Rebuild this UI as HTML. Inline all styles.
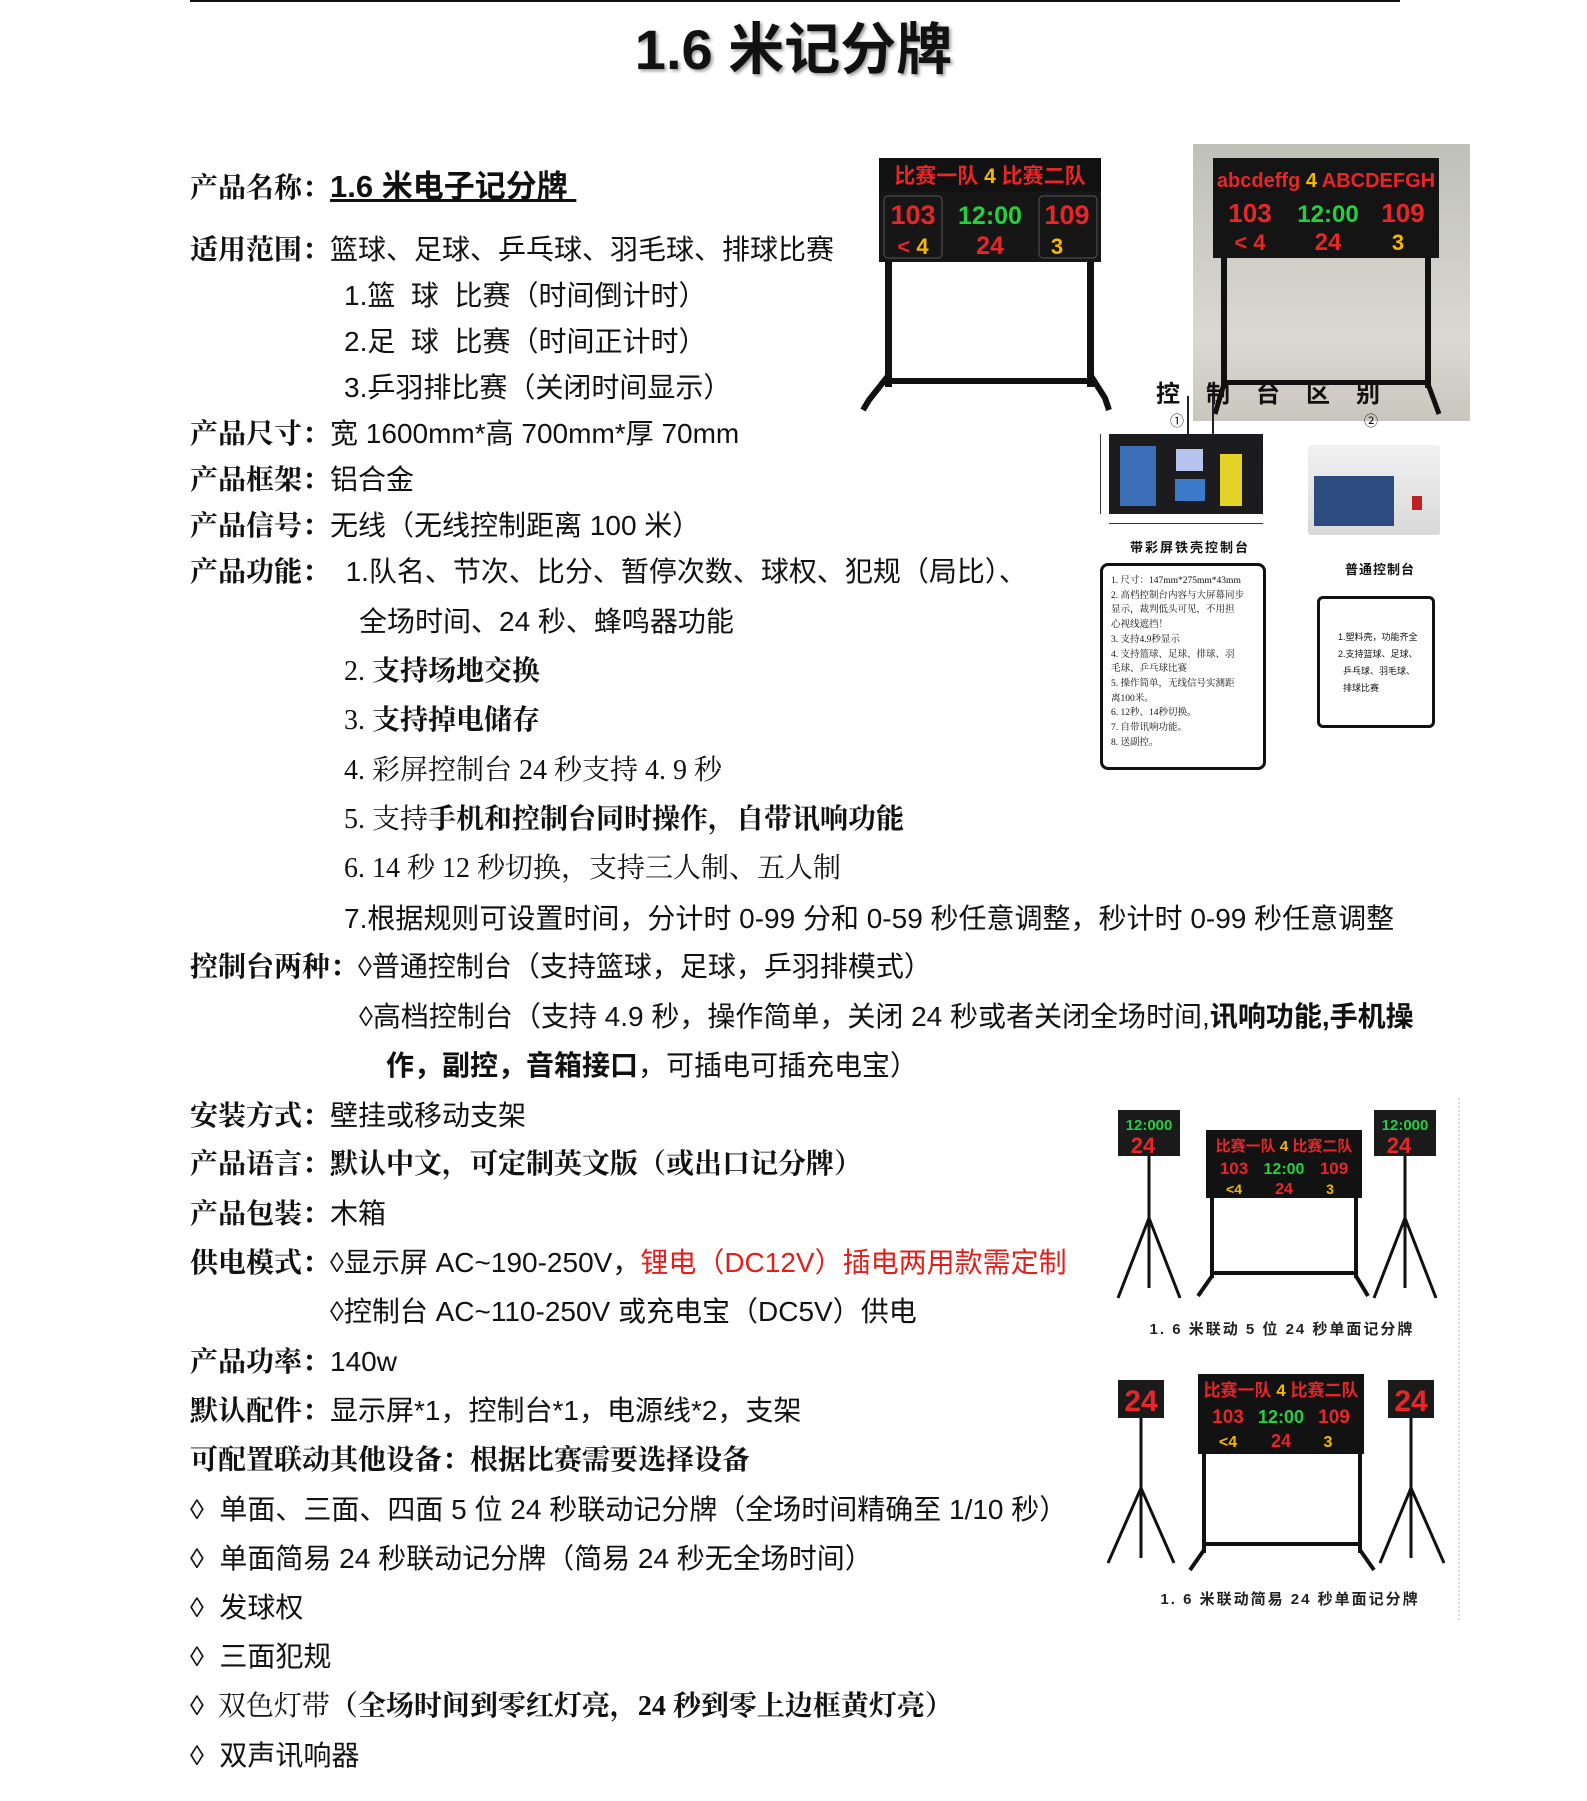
<!DOCTYPE html>
<html><head><meta charset="utf-8">
<style>
html,body{margin:0;padding:0;background:#fff;}
body{width:1587px;height:1801px;position:relative;overflow:hidden;font-family:"Liberation Sans","Noto Sans CJK SC",sans-serif;color:#111;}
.t{position:absolute;font-size:28px;line-height:34px;white-space:nowrap;transform:translateY(-17px);}
.b{font-weight:bold;}
.s{font-family:"Liberation Serif","Noto Serif CJK SC",serif;}
.a{position:absolute;}
.red{color:#e0201c;}
svg text{font-family:"Liberation Sans","Noto Sans CJK SC",sans-serif;font-weight:bold;}
</style></head><body>
<div class="a" style="left:190px;top:0;width:1210px;height:2px;background:#111"></div>
<div class="a b" style="left:0;width:1587px;top:20px;text-align:center;font-size:56px;line-height:60px;text-shadow:2px 2px 3px #999;">1.6 米记分牌</div>

<div class="t b s" style="left:190px;top:187px">产品名称：<span style="font-family:'Liberation Sans','Noto Sans CJK SC',sans-serif;font-size:31px;text-decoration:underline;">1.6 米电子记分牌&nbsp;</span></div>
<div class="t" style="left:190px;top:250px"><b class="s">适用范围：</b>篮球、足球、乒乓球、羽毛球、排球比赛</div>
<div class="t" style="left:344px;top:296px">1.篮&nbsp; 球&nbsp; 比赛（时间倒计时）</div>
<div class="t" style="left:344px;top:342px">2.足&nbsp; 球&nbsp; 比赛（时间正计时）</div>
<div class="t" style="left:344px;top:388px">3.乒羽排比赛（关闭时间显示）</div>
<div class="t" style="left:190px;top:434px"><b class="s">产品尺寸：</b>宽 1600mm*高 700mm*厚 70mm</div>
<div class="t" style="left:190px;top:480px"><b class="s">产品框架：</b>铝合金</div>
<div class="t" style="left:190px;top:526px"><b class="s">产品信号：</b>无线（无线控制距离 100 米）</div>
<div class="t" style="left:190px;top:572px"><b class="s">产品功能：</b>&nbsp; 1.队名、节次、比分、暂停次数、球权、犯规（局比）、</div>
<div class="t" style="left:359px;top:622px">全场时间、24 秒、蜂鸣器功能</div>
<div class="t s" style="left:344px;top:672px">2. <b>支持场地交换</b></div>
<div class="t s" style="left:344px;top:721px">3. <b>支持掉电储存</b></div>
<div class="t s" style="left:344px;top:771px">4. 彩屏控制台 24 秒支持 4. 9 秒</div>
<div class="t s" style="left:344px;top:820px">5. 支持<b>手机和控制台同时操作，自带讯响功能</b></div>
<div class="t s" style="left:344px;top:869px">6. 14 秒 12 秒切换，支持三人制、五人制</div>
<div class="t" style="left:344px;top:919px">7.根据规则可设置时间，分计时 0-99 分和 0-59 秒任意调整，秒计时 0-99 秒任意调整</div>
<div class="t" style="left:190px;top:967px"><b class="s">控制台两种：</b>◊普通控制台（支持篮球，足球，乒羽排模式）</div>
<div class="t" style="left:359px;top:1017px">◊高档控制台（支持 4.9 秒，操作简单，关闭 24 秒或者关闭全场时间,<b>讯响功能,手机操</b></div>
<div class="t b" style="left:386px;top:1066px">作，副控，音箱接口<span style="font-weight:normal">，可插电可插充电宝）</span></div>
<div class="t" style="left:190px;top:1116px"><b class="s">安装方式：</b>壁挂或移动支架</div>
<div class="t b s" style="left:190px;top:1165px">产品语言：默认中文，可定制英文版（或出口记分牌）</div>
<div class="t" style="left:190px;top:1214px"><b class="s">产品包装：</b>木箱</div>
<div class="t" style="left:190px;top:1263px"><b class="s">供电模式：</b>◊显示屏 AC~190-250V，<span class="red">锂电（DC12V）插电两用款需定制</span></div>
<div class="t" style="left:330px;top:1312px">◊控制台 AC~110-250V 或充电宝（DC5V）供电</div>
<div class="t" style="left:190px;top:1362px"><b class="s">产品功率：</b>140w</div>
<div class="t" style="left:190px;top:1411px"><b class="s">默认配件：</b>显示屏*1，控制台*1，电源线*2，支架</div>
<div class="t b s" style="left:190px;top:1461px">可配置联动其他设备：根据比赛需要选择设备</div>
<div class="t" style="left:190px;top:1510px">◊&nbsp; 单面、三面、四面 5 位 24 秒联动记分牌（全场时间精确至 1/10 秒）</div>
<div class="t" style="left:190px;top:1559px">◊&nbsp; 单面简易 24 秒联动记分牌（简易 24 秒无全场时间）</div>
<div class="t" style="left:190px;top:1608px">◊&nbsp; 发球权</div>
<div class="t" style="left:190px;top:1657px">◊&nbsp; 三面犯规</div>
<div class="t s" style="left:190px;top:1707px">◊&nbsp; 双色灯带<b>（全场时间到零红灯亮，24 秒到零上边框黄灯亮）</b></div>
<div class="t" style="left:190px;top:1756px">◊&nbsp; 双声讯响器</div>

<!-- scoreboard 1 -->
<svg class="a" style="left:857px;top:158px" width="264" height="256" viewBox="0 0 264 256">
<rect x="22" y="0" width="222" height="34" fill="#111"/>
<text x="133" y="25" font-size="21" fill="#e8262a" text-anchor="middle">比赛一队 <tspan fill="#f5b800">4</tspan> 比赛二队</text>
<rect x="22" y="34" width="222" height="70" fill="#161616"/>
<rect x="27" y="38" width="58" height="62" rx="4" fill="none" stroke="#555"/>
<rect x="182" y="38" width="58" height="62" rx="4" fill="none" stroke="#555"/>
<text x="56" y="66" font-size="27" fill="#e8262a" text-anchor="middle">103</text>
<text x="133" y="66" font-size="25" fill="#22d040" text-anchor="middle">12:00</text>
<text x="210" y="66" font-size="27" fill="#e8262a" text-anchor="middle">109</text>
<text x="56" y="96" font-size="22" fill="#e8262a" text-anchor="middle">&lt; <tspan fill="#f5b800">4</tspan></text>
<text x="133" y="96" font-size="25" fill="#e8262a" text-anchor="middle">24</text>
<text x="200" y="96" font-size="22" fill="#f5b800" text-anchor="middle">3</text>
<rect x="28" y="104" width="7" height="125" fill="#111"/><rect x="230" y="104" width="7" height="125" fill="#111"/>
<rect x="28" y="220" width="209" height="6" fill="#111"/>
<path d="M31 218 L12 242 L6 252 M234 218 L248 240 L252 252" stroke="#111" stroke-width="6" fill="none"/>
</svg>

<!-- photo 2 -->
<div class="a" style="left:1193px;top:144px;width:277px;height:277px;background:linear-gradient(#bfc0b8,#d9d9d2 70%,#c9c6bd);"></div>
<svg class="a" style="left:1193px;top:144px" width="277" height="277" viewBox="0 0 277 277">
<rect x="20" y="14" width="226" height="100" fill="#141414"/>
<text x="133" y="43" font-size="20" fill="#e8262a" text-anchor="middle">abcdeffg <tspan fill="#f5b800">4</tspan> ABCDEFGH</text>
<text x="57" y="78" font-size="26" fill="#e8262a" text-anchor="middle">103</text>
<text x="135" y="78" font-size="24" fill="#22d040" text-anchor="middle">12:00</text>
<text x="210" y="78" font-size="26" fill="#e8262a" text-anchor="middle">109</text>
<text x="57" y="106" font-size="22" fill="#e8262a" text-anchor="middle">&lt; 4</text>
<text x="135" y="106" font-size="24" fill="#e8262a" text-anchor="middle">24</text>
<text x="205" y="106" font-size="22" fill="#f5b800" text-anchor="middle">3</text>
<rect x="28" y="114" width="6" height="130" fill="#111"/><rect x="232" y="114" width="6" height="130" fill="#111"/>
<rect x="28" y="236" width="210" height="5" fill="#111"/>
<path d="M31 240 L22 270 M235 240 L246 270" stroke="#111" stroke-width="5"/>
</svg>
<div class="a b" style="left:1156px;top:374px;font-size:24px;letter-spacing:26px;white-space:nowrap;">控制台区别</div>
<div class="a" style="left:1170px;top:411px;font-size:14px;">①</div>
<div class="a" style="left:1364px;top:411px;font-size:14px;">②</div>
<div class="a" style="left:1187px;top:396px;width:2px;height:40px;background:#222"></div>
<div class="a" style="left:1212px;top:396px;width:2px;height:40px;background:#222"></div>

<!-- console 1 -->
<div class="a" style="left:1109px;top:434px;width:154px;height:80px;background:#1c1c1e;"></div>
<div class="a" style="left:1120px;top:446px;width:36px;height:60px;background:#3a6fb8;"></div>
<div class="a" style="left:1176px;top:449px;width:27px;height:22px;background:#b8c4f0;"></div>
<div class="a" style="left:1175px;top:479px;width:30px;height:22px;background:#3a7ac8;"></div>
<div class="a" style="left:1220px;top:454px;width:22px;height:52px;background:#e4d428;"></div>
<div class="a" style="left:1100px;top:434px;width:1px;height:80px;background:#333"></div>
<div class="a" style="left:1109px;top:523px;width:154px;height:1px;background:#333"></div>
<div class="a b" style="left:1100px;top:537px;width:180px;text-align:center;font-size:13px;letter-spacing:2px;">带彩屏铁壳控制台</div>
<!-- console 2 -->
<div class="a" style="left:1308px;top:445px;width:132px;height:90px;background:linear-gradient(#f2f2f2,#d8d8d8);border-radius:3px;"></div>
<div class="a" style="left:1314px;top:476px;width:80px;height:50px;background:#2c4c80;"></div>
<div class="a" style="left:1412px;top:496px;width:10px;height:14px;background:#c02020;"></div>
<div class="a b" style="left:1330px;top:559px;width:100px;text-align:center;font-size:13px;letter-spacing:1px;">普通控制台</div>
<!-- box 1 -->
<div class="a s" style="left:1100px;top:563px;border:3px solid #111;border-radius:8px;padding:8px 4px 0 8px;font-size:9.5px;line-height:14.7px;box-sizing:content-box;width:148px;height:193px;">1. 尺寸：147mm*275mm*43mm<br>2. 高档控制台内容与大屏幕同步<br>显示，裁判低头可见，不用担<br>心视线遮挡！<br>3. 支持4.9秒显示<br>4. 支持篮球、足球、排球、羽<br>毛球、乒乓球比赛<br>5. 操作简单，无线信号实测距<br>离100米。<br>6. 12秒、14秒切换。<br>7. 自带讯响功能。<br>8. 送副控。</div>
<!-- box 2 -->
<div class="a" style="left:1317px;top:596px;width:112px;height:126px;border:3px solid #111;border-radius:6px;font-size:9px;line-height:17px;padding:0;"><div style="padding:30px 0 0 18px">1.塑料壳，功能齐全<br>2.支持篮球、足球、<br>&nbsp;&nbsp;乒乓球、羽毛球、<br>&nbsp;&nbsp;排球比赛</div></div>

<!-- bottom groups -->
<svg class="a" style="left:1098px;top:1098px" width="362" height="530" viewBox="0 0 362 530">
<line x1="361" y1="0" x2="361" y2="524" stroke="#bbb" stroke-dasharray="2,2"/>
<rect x="20" y="12" width="62" height="46" fill="#1a1a1a"/>
<text x="51" y="32" font-size="15" fill="#22d040" text-anchor="middle">12:000</text>
<text x="45" y="55" font-size="22" fill="#e8262a" text-anchor="middle">24</text>
<rect x="276" y="12" width="62" height="46" fill="#1a1a1a"/>
<text x="307" y="32" font-size="15" fill="#22d040" text-anchor="middle">12:000</text>
<text x="301" y="55" font-size="22" fill="#e8262a" text-anchor="middle">24</text>
<path d="M51 58 V190 M51 120 L20 200 M51 120 L82 200 M307 58 V190 M307 120 L276 200 M307 120 L338 200" stroke="#111" stroke-width="3" fill="none"/>
<rect x="108" y="32" width="156" height="68" fill="#121212"/>
<text x="186" y="53" font-size="15" fill="#e8262a" text-anchor="middle">比赛一队 <tspan fill="#f5b800">4</tspan> 比赛二队</text>
<text x="136" y="76" font-size="17" fill="#e8262a" text-anchor="middle">103</text>
<text x="186" y="76" font-size="16" fill="#22d040" text-anchor="middle">12:00</text>
<text x="236" y="76" font-size="17" fill="#e8262a" text-anchor="middle">109</text>
<text x="186" y="96" font-size="16" fill="#e8262a" text-anchor="middle">24</text>
<text x="136" y="96" font-size="14" fill="#f5b800" text-anchor="middle">&lt;4</text>
<text x="232" y="96" font-size="14" fill="#f5b800" text-anchor="middle">3</text>
<path d="M114 100 V180 M258 100 V180 M114 175 H258 M114 178 L100 198 M258 178 L270 198" stroke="#111" stroke-width="4" fill="none"/>
<text x="184" y="236" font-size="15" fill="#222" text-anchor="middle" letter-spacing="2">1. 6 米联动 5 位 24 秒单面记分牌</text>
<rect x="20" y="282" width="46" height="38" fill="#1a1a1a"/>
<text x="43" y="313" font-size="30" fill="#e8262a" text-anchor="middle">24</text>
<rect x="290" y="282" width="46" height="38" fill="#1a1a1a"/>
<text x="313" y="313" font-size="30" fill="#e8262a" text-anchor="middle">24</text>
<path d="M43 320 V460 M43 390 L10 465 M43 390 L76 465 M313 320 V460 M313 390 L282 465 M313 390 L346 465" stroke="#111" stroke-width="3" fill="none"/>
<rect x="100" y="276" width="166" height="80" fill="#121212"/>
<text x="183" y="298" font-size="17" fill="#e8262a" text-anchor="middle">比赛一队 <tspan fill="#f5b800">4</tspan> 比赛二队</text>
<text x="130" y="325" font-size="19" fill="#e8262a" text-anchor="middle">103</text>
<text x="183" y="325" font-size="18" fill="#22d040" text-anchor="middle">12:00</text>
<text x="236" y="325" font-size="19" fill="#e8262a" text-anchor="middle">109</text>
<text x="183" y="349" font-size="18" fill="#e8262a" text-anchor="middle">24</text>
<text x="130" y="349" font-size="16" fill="#f5b800" text-anchor="middle">&lt;4</text>
<text x="230" y="349" font-size="16" fill="#f5b800" text-anchor="middle">3</text>
<path d="M106 356 V455 M262 356 V455 M106 446 H262 M106 452 L92 472 M262 452 L276 472" stroke="#111" stroke-width="4" fill="none"/>
<text x="192" y="506" font-size="15" fill="#222" text-anchor="middle" letter-spacing="2">1. 6 米联动简易 24 秒单面记分牌</text>
</svg>
</body></html>
